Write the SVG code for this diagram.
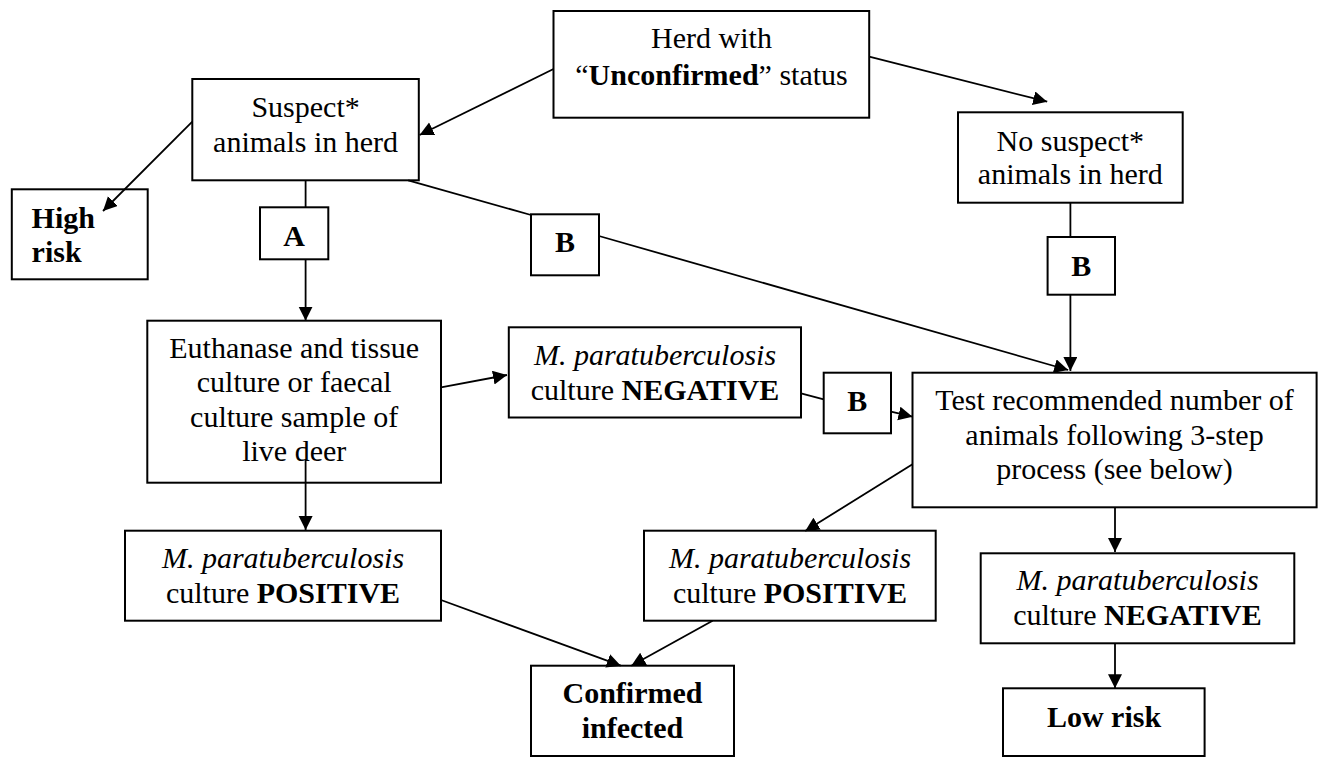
<svg xmlns="http://www.w3.org/2000/svg" width="1325" height="757" viewBox="0 0 1325 757">
<style>
.box{fill:#fff;stroke:#000;stroke-width:2}
text{font-family:'Liberation Serif','Times New Roman',Tinos,'DejaVu Serif',serif;font-size:30px;fill:#000;text-anchor:middle}
.l{text-anchor:start}
.b{font-weight:bold}
.i{font-style:italic}
.c{fill:none;stroke:#000;stroke-width:1.8}
</style>
<defs>
<marker id="ah" markerUnits="userSpaceOnUse" markerWidth="16" markerHeight="16" refX="14" refY="7" orient="auto">
<path d="M0,0 L14,7 L0,14 Z" fill="#000"/>
</marker>
</defs>
<rect width="1325" height="757" fill="#fff"/>
<g font-family="Liberation Serif, serif">
<g id="herd">
<rect class="box" x="553.5" y="11" width="315.7" height="106.7"/>
<text x="711.5" y="48.3">Herd with</text>
<text x="711.5" y="85">“<tspan class="b">Unconfirmed</tspan>” status</text>
</g>
<g id="suspect">
<rect class="box" x="192.3" y="79" width="226.5" height="101.3"/>
<text x="305.6" y="117.3">Suspect*</text>
<text x="305.6" y="151.7">animals in herd</text>
</g>
<g id="highrisk">
<rect class="box" x="11.8" y="189.3" width="135.9" height="90"/>
<text class="l b" x="31.6" y="227.7">High</text>
<text class="l b" x="31.6" y="261.7">risk</text>
</g>
<g id="labelA">
<rect class="box" x="260" y="207.3" width="68.3" height="52"/>
<text class="b" x="294" y="246">A</text>
</g>
<g id="labelB1">
<rect class="box" x="531" y="214.3" width="68" height="61"/>
<text class="b" x="565" y="251.7">B</text>
</g>
<g id="nosuspect">
<rect class="box" x="958" y="112.3" width="224.7" height="90.4"/>
<text x="1070.3" y="150.7">No suspect*</text>
<text x="1070.3" y="184.3">animals in herd</text>
</g>
<g id="labelB2">
<rect class="box" x="1047.6" y="237" width="67.4" height="57.7"/>
<text class="b" x="1081.3" y="276">B</text>
</g>
<g id="euthanase">
<rect class="box" x="147.3" y="320.7" width="293.7" height="162"/>
<text x="294.2" y="357.7">Euthanase and tissue</text>
<text x="294.2" y="392.2">culture or faecal</text>
<text x="294.2" y="426.7">culture sample of</text>
<text x="294.2" y="461.2">live deer</text>
</g>
<g id="negmid">
<rect class="box" x="508.8" y="327.3" width="292.2" height="90.2"/>
<text class="i" x="655" y="365">M. paratuberculosis</text>
<text x="655" y="400">culture <tspan class="b">NEGATIVE</tspan></text>
</g>
<g id="labelB3">
<rect class="box" x="823.7" y="372.7" width="67.3" height="60.6"/>
<text class="b" x="857.3" y="410.7">B</text>
</g>
<g id="test">
<rect class="box" x="912.5" y="372.7" width="404.1" height="134.6"/>
<text x="1114.5" y="410">Test recommended number of</text>
<text x="1114.5" y="444.5">animals following 3-step</text>
<text x="1114.5" y="479">process (see below)</text>
</g>
<g id="posleft">
<rect class="box" x="125" y="530.7" width="316" height="90"/>
<text class="i" x="283" y="568">M. paratuberculosis</text>
<text x="283" y="603">culture <tspan class="b">POSITIVE</tspan></text>
</g>
<g id="posmid">
<rect class="box" x="644" y="530.7" width="291.7" height="90"/>
<text class="i" x="790" y="568">M. paratuberculosis</text>
<text x="790" y="603">culture <tspan class="b">POSITIVE</tspan></text>
</g>
<g id="negright">
<rect class="box" x="980.7" y="553.3" width="313.6" height="90"/>
<text class="i" x="1137.5" y="590">M. paratuberculosis</text>
<text x="1137.5" y="625">culture <tspan class="b">NEGATIVE</tspan></text>
</g>
<g id="confirmed">
<rect class="box" x="531" y="665.7" width="203" height="90.3"/>
<text class="b" x="632.5" y="703.3">Confirmed</text>
<text class="b" x="632.5" y="738.3">infected</text>
</g>
<g id="lowrisk">
<rect class="box" x="1003" y="688.3" width="201.6" height="67.7"/>
<text class="b" x="1104" y="726.7">Low risk</text>
</g>
</g>
<g id="connectors">
<line class="c" x1="553.5" y1="69" x2="419.6" y2="135" marker-end="url(#ah)"/>
<line class="c" x1="869.2" y1="56.7" x2="1047.2" y2="101.7" marker-end="url(#ah)"/>
<line class="c" x1="192.3" y1="121.7" x2="103" y2="211" marker-end="url(#ah)"/>
<line class="c" x1="305.6" y1="180.3" x2="305.6" y2="207.3"/>
<line class="c" x1="305.6" y1="259.3" x2="305.6" y2="320.7" marker-end="url(#ah)"/>
<line class="c" x1="408.2" y1="180.3" x2="531" y2="215"/>
<line class="c" x1="599" y1="236" x2="1068.2" y2="370" marker-end="url(#ah)"/>
<line class="c" x1="1070.4" y1="202.7" x2="1070.4" y2="237"/>
<line class="c" x1="1070.4" y1="294.7" x2="1070.4" y2="371" marker-end="url(#ah)"/>
<line class="c" x1="441" y1="387.3" x2="507" y2="375" marker-end="url(#ah)"/>
<line class="c" x1="801" y1="393.3" x2="823.7" y2="399.3"/>
<line class="c" x1="891" y1="411.7" x2="912.5" y2="416.7" marker-end="url(#ah)"/>
<line class="c" x1="305.6" y1="460" x2="305.6" y2="530" marker-end="url(#ah)"/>
<line class="c" x1="912.5" y1="464.3" x2="805.2" y2="531" marker-end="url(#ah)"/>
<line class="c" x1="441" y1="600" x2="620.8" y2="665.7" marker-end="url(#ah)"/>
<line class="c" x1="712.6" y1="620.7" x2="631.3" y2="665.7" marker-end="url(#ah)"/>
<line class="c" x1="1115" y1="507.3" x2="1115" y2="552" marker-end="url(#ah)"/>
<line class="c" x1="1115" y1="643.3" x2="1115" y2="688.3" marker-end="url(#ah)"/>
</g>
</svg>
